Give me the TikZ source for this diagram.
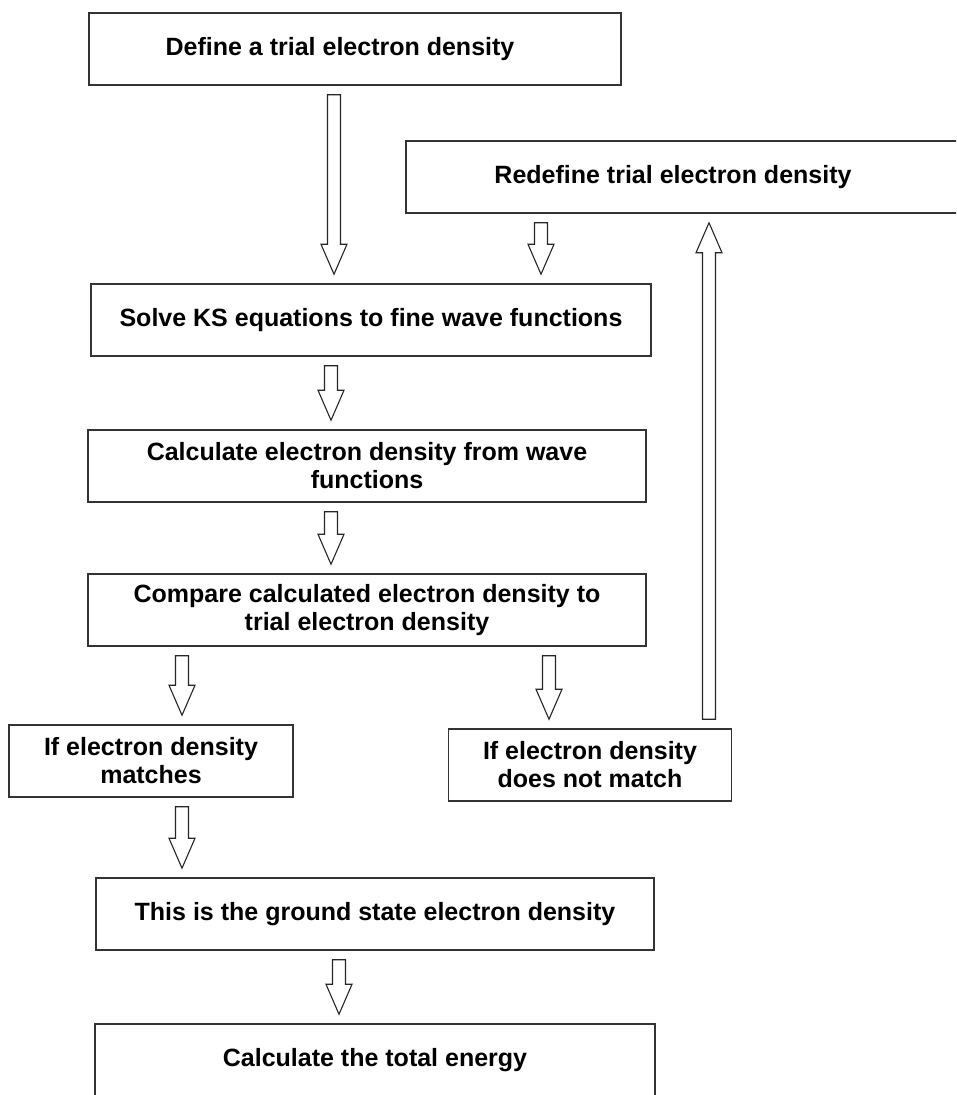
\documentclass[tikz,border=0pt]{standalone}
\usepackage{fontspec}
\setmainfont{Liberation Sans}
\usetikzlibrary{calc}
\tikzset{
  stepbox/.style={draw=black!80,line width=1.5pt,fill=white,align=center,inner sep=0pt,
    minimum height=72pt,font=\bfseries\fontsize{25}{28}\selectfont},
  steplabel/.style={font=\bfseries\fontsize{25}{28}\selectfont,inner sep=0pt},
  flowarr/.style={draw=black!85,line width=1.1pt,fill=white,line join=miter}
}
% hollow block arrow: #1 x position, #2 start anchor, #3 end anchor
\newcommand{\flowarrow}[3]{%
  \draw[flowarr] let \p1=(#2), \p2=(#3), \n1={sign(\y2-\y1)},
      \n2={\y1+\n1*9}, \n3={\y2-\n1*9}, \n4={\n3-\n1*30} in
    ({#1pt-6.5pt},{\n2*1pt}) -- ({#1pt-6.5pt},{\n4*1pt}) -- ({#1pt-13pt},{\n4*1pt})
    -- ({#1pt},{\n3*1pt}) -- ({#1pt+13pt},{\n4*1pt}) -- ({#1pt+6.5pt},{\n4*1pt})
    -- ({#1pt+6.5pt},{\n2*1pt}) -- cycle;}

\begin{document}
\begin{tikzpicture}[x=1pt,y=-1pt]
  \useasboundingbox (0,0) rectangle (956,1095);
  \clip (0,0) rectangle (956,1095);

  % steps of the loop
  \node[stepbox,minimum width=532pt,
    label={[steplabel,xshift=-15pt]center:Define a trial electron density}] (define) at (355,49) {};
  \node[stepbox,minimum width=604pt,
    label={[steplabel,xshift=-35pt]center:Redefine trial electron density}] (redefine) at (708,177) {};
  \node[stepbox,minimum width=560pt] (solve) at (371,320) {Solve KS equations to fine wave functions};
  \node[stepbox,minimum width=558pt] (calc) at (367,466) {Calculate electron density from wave\\functions};
  \node[stepbox,minimum width=558pt] (compare) at (367,610) {Compare calculated electron density to\\trial electron density};
  \node[stepbox,minimum width=284pt] (match) at (151,761) {If electron density\\matches};
  \node[stepbox,minimum width=283pt] (nomatch) at (590,765) {If electron density\\does not match};
  \node[stepbox,minimum width=558pt] (ground) at (375,914) {This is the ground state electron density};
  \node[stepbox,minimum width=560pt] (energy) at (375,1060) {Calculate the total energy};

  % arrows between the steps
  \flowarrow{334}{define.south}{solve.north}
  \flowarrow{541}{redefine.south}{solve.north}
  \flowarrow{331}{solve.south}{calc.north}
  \flowarrow{331}{calc.south}{compare.north}
  \flowarrow{182}{compare.south}{match.north}
  \flowarrow{549}{compare.south}{nomatch.north}
  \flowarrow{709}{nomatch.north}{redefine.south}
  \flowarrow{182}{match.south}{ground.north}
  \flowarrow{339}{ground.south}{energy.north}
\end{tikzpicture}
\end{document}
